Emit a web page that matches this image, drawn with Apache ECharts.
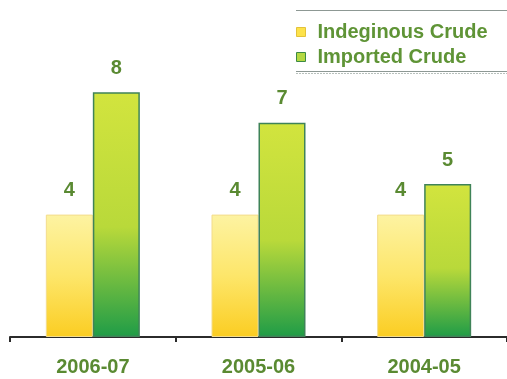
<!DOCTYPE html>
<html>
<head>
<meta charset="utf-8">
<script src="https://cdn.jsdelivr.net/npm/echarts@6/dist/echarts.min.js"></script>
<style>
  html, body { margin: 0; padding: 0; background: #ffffff; }
  #chart { width: 507px; height: 379px; }
</style>
</head>
<body>
<div id="chart"></div>
<script>
// Crude oil figures by financial year
const years = ['2006-07', '2005-06', '2004-05'];
const indigenousCrude = [4, 4, 4];
const importedCrude = [8, 7, 5];
const seriesNames = ['Indeginous Crude', 'Imported Crude'];

const labelGreen = '#5a8a32';
const fontFamily = 'Liberation Sans, Arial, sans-serif';

const chart = echarts.init(document.getElementById('chart'));

const yellowFill = new echarts.graphic.LinearGradient(0, 0, 0, 1, [
  { offset: 0, color: '#fdf3a2' },
  { offset: 0.5, color: '#fde66a' },
  { offset: 1, color: '#fbcd22' }
]);
const greenFill = new echarts.graphic.LinearGradient(0, 0, 0, 1, [
  { offset: 0, color: '#d2e43e' },
  { offset: 0.55, color: '#b9d93a' },
  { offset: 1, color: '#1f9c47' }
]);

const valueLabel = {
  show: true,
  position: 'top',
  distance: 14,
  color: labelGreen,
  fontFamily: fontFamily,
  fontWeight: 'bold',
  fontSize: 20
};

chart.setOption({
  animation: false,
  backgroundColor: '#ffffff',
  grid: { left: 10, top: 31, width: 501, height: 306, containLabel: false },
  legend: {
    orient: 'vertical',
    left: 292,
    top: 22,
    itemWidth: 9,
    itemHeight: 9,
    itemGap: 5,
    padding: [0, 0, 0, 4],
    textStyle: {
      color: '#5f9436',
      fontFamily: fontFamily,
      fontWeight: 'bold',
      fontSize: 20,
      padding: [0, 0, 0, 7]
    },
    data: [
      { name: seriesNames[0], icon: 'rect', itemStyle: { color: '#fde24a', borderColor: '#e3c23a', borderWidth: 1 } },
      { name: seriesNames[1], icon: 'rect', itemStyle: { color: '#b4d842', borderColor: '#3c8a44', borderWidth: 1 } }
    ]
  },
  graphic: [
    // frame lines above and below the legend
    { type: 'line', shape: { x1: 296, y1: 10.5, x2: 507, y2: 10.5 }, style: { stroke: '#8d9894', lineWidth: 1 } },
    { type: 'line', shape: { x1: 296, y1: 71.5, x2: 507, y2: 71.5 }, style: { stroke: '#8d9894', lineWidth: 1 } },
    { type: 'line', shape: { x1: 296, y1: 73.5, x2: 507, y2: 73.5 }, style: { stroke: '#b7c0bc', lineWidth: 1, lineDash: [2, 1] } }
  ],
  xAxis: {
    type: 'category',
    data: years,
    axisLine: { lineStyle: { color: '#2b2b2b', width: 2 } },
    axisTick: { show: true, length: 5, lineStyle: { color: '#2b2b2b', width: 2 } },
    axisLabel: {
      margin: 20,
      color: labelGreen,
      fontFamily: fontFamily,
      fontWeight: 'bold',
      fontSize: 20
    }
  },
  yAxis: {
    type: 'value',
    min: 0,
    max: 10,
    show: false,
    splitLine: { show: false }
  },
  series: [
    {
      name: seriesNames[0],
      type: 'bar',
      data: indigenousCrude,
      barWidth: 47,
      barGap: '0%',
      itemStyle: { color: yellowFill, borderColor: '#f3dc8c', borderWidth: 1 },
      label: valueLabel
    },
    {
      name: seriesNames[1],
      type: 'bar',
      data: importedCrude,
      barWidth: 47,
      itemStyle: { color: greenFill, borderColor: '#3f8358', borderWidth: 1.5 },
      label: valueLabel
    }
  ]
});
</script>
</body>
</html>
